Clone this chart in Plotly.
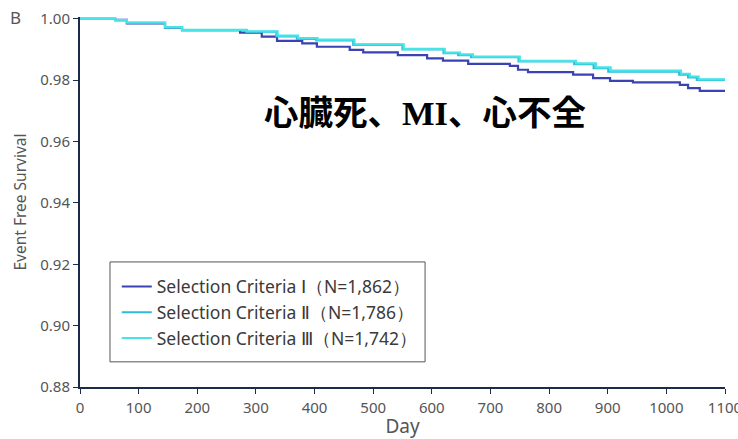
import plotly.graph_objects as go

# Kaplan-Meier step data (day, event-free survival)
days_1 = [0, 60, 80, 145, 174, 273, 310, 336, 379, 404, 460, 483, 542, 592, 619, 662, 733, 747, 764, 841, 875, 904, 943, 1023, 1037, 1057, 1103]
surv_1 = [1.0, 0.9997, 0.9985, 0.9971, 0.9963, 0.9955, 0.9942, 0.9928, 0.9920, 0.9909, 0.9899, 0.9891, 0.9882, 0.9871, 0.9864, 0.9853, 0.9847, 0.9834, 0.9826, 0.9818, 0.9807, 0.9798, 0.9793, 0.9785, 0.9774, 0.9765, 0.9765]

days_2 = [0, 60, 80, 145, 174, 284, 335, 370, 403, 466, 550, 620, 645, 667, 748, 843, 876, 901, 1022, 1037, 1052, 1103]
surv_2 = [1.0, 0.9995, 0.9987, 0.9972, 0.9963, 0.9958, 0.9943, 0.9935, 0.9930, 0.9915, 0.9900, 0.9888, 0.9882, 0.9875, 0.9861, 0.9852, 0.9839, 0.9828, 0.9818, 0.9809, 0.9801, 0.9801]

days_3 = [0, 60, 80, 145, 174, 284, 337, 372, 405, 468, 552, 622, 648, 670, 750, 846, 880, 905, 1025, 1040, 1055, 1103]
surv_3 = [1.0, 0.9996, 0.9988, 0.9973, 0.9964, 0.9959, 0.9945, 0.9937, 0.9932, 0.9917, 0.9902, 0.9890, 0.9884, 0.9877, 0.9863, 0.9855, 0.9842, 0.9831, 0.9821, 0.9812, 0.9803, 0.9803]

names = ["Selection Criteria Ⅰ（N=1,862）",
         "Selection Criteria Ⅱ（N=1,786）",
         "Selection Criteria Ⅲ（N=1,742）"]
colors = ["#3a42b4", "#2cbcd8", "#45e4e6"]

x_ticks = list(range(0, 1101, 100))
y_ticks = [0.88, 0.90, 0.92, 0.94, 0.96, 0.98, 1.00]

FONT = "Noto Sans, Open Sans, sans-serif"

fig = go.Figure()
for d, s, n, c in zip([days_1, days_2, days_3], [surv_1, surv_2, surv_3], names, colors):
    fig.add_trace(go.Scatter(x=d, y=s, mode="lines", name=n,
                             line=dict(color=c, width=2.2, shape="hv")))

fig.update_layout(
    width=738, height=439,
    margin=dict(l=80, r=13, t=17, b=52, autoexpand=False),
    paper_bgcolor="white", plot_bgcolor="white",
    font=dict(family=FONT, color="#555555", size=13),
    showlegend=True,
    legend=dict(x=0.057, y=0.320, xanchor="left", yanchor="top",
                bgcolor="rgba(0,0,0,0)", borderwidth=0,
                font=dict(size=17.5, color="#3a3a3a"),
                itemwidth=30),
    xaxis=dict(range=[0, 1100], tickvals=x_ticks, ticks="outside", ticklen=5,
               tickcolor="#1e2a4a", showline=True, linecolor="#1e2a4a", linewidth=2,
               showgrid=False, zeroline=False, ticklabeloverflow="allow",
               ticklabelstandoff=1, automargin=False,
               tickfont=dict(size=15, color="#555555"),
               title=dict(text="Day", font=dict(size=19, color="#555555"), standoff=12)),
    yaxis=dict(range=[0.88, 1.0006], tickvals=y_ticks, tickformat=".2f", ticks="outside",
               ticklen=5, tickcolor="#1e2a4a", showline=True, linecolor="#1e2a4a",
               linewidth=2, showgrid=False, zeroline=False, automargin=False,
               tickfont=dict(size=15, color="#555555"),
               title=dict(text="Event Free Survival", font=dict(size=15.5, color="#555555"),
                          standoff=10)),
)

# legend frame
fig.add_shape(type="rect", xref="paper", yref="paper",
              x0=0.0465, x1=0.535, y0=0.068, y1=0.338,
              line=dict(color="#555555", width=1), fillcolor="rgba(0,0,0,0)", layer="above")

fig.add_annotation(text="B", xref="paper", yref="paper", x=-0.1, y=1.0,
                   xanchor="center", yanchor="middle", showarrow=False,
                   font=dict(size=17, color="#555555"))
fig.add_annotation(text="<b>心臓死、<span style='font-family:Liberation Serif'>MI</span>、心不全</b>",
                   xref="paper", yref="paper", x=0.535, y=0.749,
                   xanchor="center", yanchor="middle", showarrow=False,
                   font=dict(size=34.5, color="#000000", family="Noto Sans CJK JP"))

fig.write_html("out.html")
